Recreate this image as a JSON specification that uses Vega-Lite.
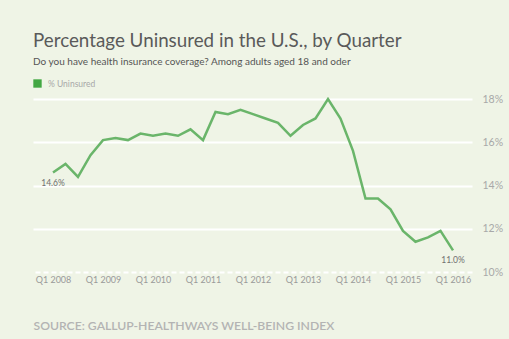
{
  "$schema": "https://vega.github.io/schema/vega-lite/v6.json",
  "width": 439,
  "height": 173,
  "autosize": "none",
  "padding": {"left": 33, "top": 99, "right": 37, "bottom": 67},
  "background": "#eff4e6",
  "title": {
    "text": "Percentage Uninsured in the U.S., by Quarter",
    "subtitle": "Do you have health insurance coverage? Among adults aged 18 and oder",
    "anchor": "start",
    "frame": "group",
    "offset": 12,
    "font": "Lato",
    "fontSize": 18.8,
    "fontWeight": "normal",
    "color": "#5a5a5a",
    "subtitleFont": "Lato",
    "subtitleFontSize": 10,
    "subtitleColor": "#555555",
    "subtitlePadding": 6
  },
  "config": {
    "view": {"stroke": null},
    "font": "Lato"
  },
  "data": {
    "values": [
      {"t": 2008.0, "pct": 14.6, "label": "14.6%"},
      {"t": 2008.25, "pct": 15.0, "label": ""},
      {"t": 2008.5, "pct": 14.4, "label": ""},
      {"t": 2008.75, "pct": 15.4, "label": ""},
      {"t": 2009.0, "pct": 16.1, "label": ""},
      {"t": 2009.25, "pct": 16.2, "label": ""},
      {"t": 2009.5, "pct": 16.1, "label": ""},
      {"t": 2009.75, "pct": 16.4, "label": ""},
      {"t": 2010.0, "pct": 16.3, "label": ""},
      {"t": 2010.25, "pct": 16.4, "label": ""},
      {"t": 2010.5, "pct": 16.3, "label": ""},
      {"t": 2010.75, "pct": 16.6, "label": ""},
      {"t": 2011.0, "pct": 16.1, "label": ""},
      {"t": 2011.25, "pct": 17.4, "label": ""},
      {"t": 2011.5, "pct": 17.3, "label": ""},
      {"t": 2011.75, "pct": 17.5, "label": ""},
      {"t": 2012.0, "pct": 17.3, "label": ""},
      {"t": 2012.25, "pct": 17.1, "label": ""},
      {"t": 2012.5, "pct": 16.9, "label": ""},
      {"t": 2012.75, "pct": 16.3, "label": ""},
      {"t": 2013.0, "pct": 16.8, "label": ""},
      {"t": 2013.25, "pct": 17.1, "label": ""},
      {"t": 2013.5, "pct": 18.0, "label": ""},
      {"t": 2013.75, "pct": 17.1, "label": ""},
      {"t": 2014.0, "pct": 15.6, "label": ""},
      {"t": 2014.25, "pct": 13.4, "label": ""},
      {"t": 2014.5, "pct": 13.4, "label": ""},
      {"t": 2014.75, "pct": 12.9, "label": ""},
      {"t": 2015.0, "pct": 11.9, "label": ""},
      {"t": 2015.25, "pct": 11.4, "label": ""},
      {"t": 2015.5, "pct": 11.6, "label": ""},
      {"t": 2015.75, "pct": 11.9, "label": ""},
      {"t": 2016.0, "pct": 11.0, "label": "11.0%"}
    ]
  },
  "encoding": {
    "x": {
      "field": "t",
      "type": "quantitative",
      "scale": {"domain": [2007.6, 2016.38], "nice": false, "zero": false},
      "axis": {
        "values": [2008, 2009, 2010, 2011, 2012, 2013, 2014, 2015, 2016],
        "labelExpr": "'Q1 ' + datum.value",
        "ticks": false,
        "domain": false,
        "grid": false,
        "labelColor": "#9a9a9a",
        "labelFontSize": 9,
        "labelPadding": 3,
        "labelFlush": false,
        "title": "SOURCE: GALLUP-HEALTHWAYS WELL-BEING INDEX",
        "titleAnchor": "start",
        "titleAlign": "left",
        "titleColor": "#b3b3b3",
        "titleFontSize": 12.2,
        "titleFontWeight": 600,
        "titlePadding": 35
      }
    },
    "y": {
      "field": "pct",
      "type": "quantitative",
      "scale": {"domain": [10, 18], "nice": false, "zero": false},
      "axis": {
        "orient": "right",
        "values": [10, 12, 14, 16, 18],
        "labelExpr": "datum.value + '%'",
        "ticks": false,
        "domain": false,
        "grid": true,
        "gridColor": "#ffffff",
        "gridWidth": 2,
        "gridDash": {"condition": {"test": "datum.value === 10", "value": [5, 3]}, "value": []},
        "labelColor": "#a8a8a8",
        "labelFontSize": 10.5,
        "labelPadding": 10,
        "title": null
      }
    }
  },
  "layer": [
    {
      "mark": {"type": "line", "strokeWidth": 2.5, "clip": false},
      "encoding": {
        "color": {
          "datum": "% Uninsured",
          "scale": {"range": ["#6ab56a"]},
          "legend": {
            "title": null,
            "orient": "none",
            "legendX": 0,
            "legendY": -20,
            "symbolType": "square",
            "symbolSize": 70,
            "labelColor": "#a8a8a8",
            "labelFontSize": 8.5,
            "labelOffset": 6,
            "encode": {
              "symbols": {
                "update": {
                  "fill": {"value": "#43a743"},
                  "stroke": {"value": "#43a743"},
                  "strokeWidth": {"value": 0}
                }
              }
            }
          }
        }
      }
    },
    {
      "mark": {"type": "text", "baseline": "top", "dy": 6, "fontSize": 8.5, "color": "#707070"},
      "encoding": {"text": {"field": "label"}}
    }
  ]
}
